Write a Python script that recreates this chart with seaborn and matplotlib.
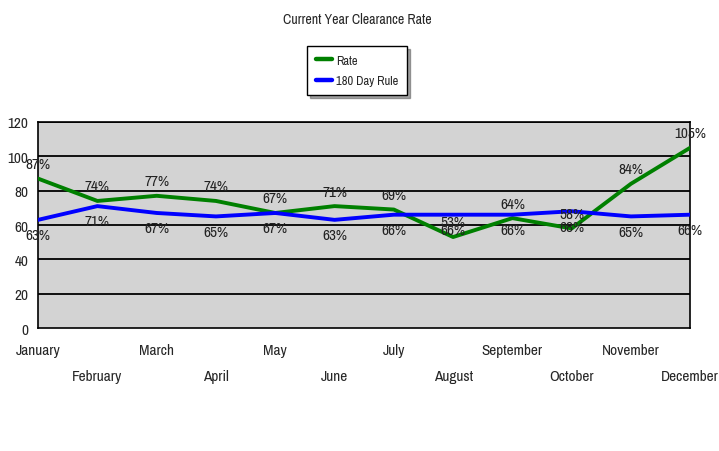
import matplotlib
matplotlib.use("Agg")
import matplotlib.pyplot as plt
from matplotlib import font_manager
import seaborn as sns
import pandas as pd

months = ["January", "February", "March", "April", "May", "June", "July",
          "August", "September", "October", "November", "December"]
rate = [87, 74, 77, 74, 67, 71, 69, 53, 64, 58, 84, 105]
day_rule = [63, 71, 67, 65, 67, 63, 66, 66, 66, 68, 65, 66]
series_names = ["Rate", "180 Day Rule"]
series_colors = ["#008000", "#0000FF"]
y_ticks = [0, 20, 40, 60, 80, 100, 120]

sns.set_style("white")

# prefer a narrow sans face when one is installed
names = {f.name for f in font_manager.fontManager.ttflist}
if "Archivo Narrow" in names:
    plt.rcParams["font.family"] = ["Archivo Narrow", "DejaVu Sans"]
else:
    plt.rcParams["font.family"] = ["DejaVu Sans"]
    plt.rcParams["font.stretch"] = "condensed"

idx = list(range(len(months)))
df = pd.DataFrame({
    "pos": idx * 2,
    "value": rate + day_rule,
    "series": [series_names[0]] * len(months) + [series_names[1]] * len(months),
})

fig = plt.figure(figsize=(7.19, 4.52), dpi=100)
ax = fig.add_axes([0.053, 0.272, 0.907, 0.456])
ax.set_facecolor("#D3D3D3")

sns.lineplot(data=df, x="pos", y="value", hue="series",
             palette=dict(zip(series_names, series_colors)),
             linewidth=2.8, ax=ax, legend=False, zorder=3)

fs = 11
for i in idx:
    ax.annotate(f"{rate[i]}%", (i, rate[i]), xytext=(0, 10.5), textcoords="offset points",
                ha="center", va="center", fontsize=fs, color="#222222", zorder=4)
    ax.annotate(f"{day_rule[i]}%", (i, day_rule[i]), xytext=(0, -11), textcoords="offset points",
                ha="center", va="center", fontsize=fs, color="#222222", zorder=4)

ax.set_xlim(0, len(months) - 1)
ax.set_ylim(0, 120)
ax.set_yticks(y_ticks)
ax.set_yticklabels([str(t) for t in y_ticks], fontsize=fs)
ax.set_xticks(idx)
ax.set_xticklabels([m if i % 2 == 0 else "\n" + m for i, m in enumerate(months)],
                   fontsize=fs, linespacing=2.05)
ax.tick_params(axis="both", direction="out", length=4, width=1, color="black", pad=3)
ax.tick_params(axis="x", pad=7)
ax.set_xlabel("")
ax.set_ylabel("")

for y in y_ticks[1:]:
    ax.axhline(y, color="black", linewidth=1.3, zorder=1)
for side in ["left", "bottom", "right", "top"]:
    ax.spines[side].set_visible(True)
    ax.spines[side].set_color("black")
    ax.spines[side].set_linewidth(1.2)

fig.text(0.497, 0.955, "Current Year Clearance Rate", ha="center", va="center", fontsize=10)

handles = [plt.Line2D([0], [0], color=c, linewidth=3.2) for c in series_colors]
leg = fig.legend(handles, series_names, loc="upper center", bbox_to_anchor=(0.497, 0.896),
                 borderaxespad=0, frameon=True, fancybox=False, shadow=True, fontsize=9,
                 handlelength=1.3, handletextpad=0.3, borderpad=0.7, labelspacing=0.75)
leg.get_frame().set_edgecolor("black")
leg.get_frame().set_linewidth(1.0)

fig.savefig("out.png", dpi=100)
